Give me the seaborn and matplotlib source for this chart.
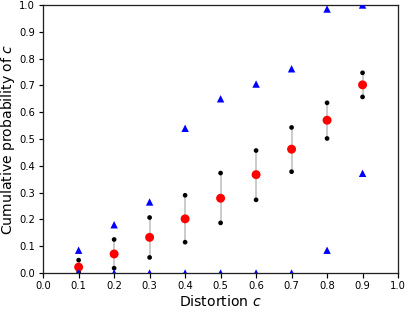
import numpy as np
import pandas as pd
import matplotlib
matplotlib.use('Agg')
import matplotlib.pyplot as plt
import seaborn as sns

# Du lieu doc tu hinh
distortion = [0.1, 0.2, 0.3, 0.4, 0.5, 0.6, 0.7, 0.8, 0.9]
mean_prob = [0.022, 0.071, 0.133, 0.202, 0.279, 0.367, 0.462, 0.570, 0.702]
upper_std = [0.048, 0.125, 0.207, 0.290, 0.373, 0.457, 0.543, 0.635, 0.747]
lower_std = [0.003, 0.018, 0.058, 0.115, 0.187, 0.273, 0.378, 0.502, 0.657]
max_prob = [0.085, 0.180, 0.265, 0.540, 0.650, 0.705, 0.762, 0.985, 1.0]
min_prob = [0.0, 0.0, 0.0, 0.0, 0.0, 0.0, 0.0, 0.085, 0.372]

df = pd.DataFrame({'c': distortion, 'mean': mean_prob, 'hi': upper_std,
                   'lo': lower_std, 'max': max_prob, 'min': min_prob})

sns.set_style('ticks')
plt.rcParams['font.family'] = ['DejaVu Sans']
plt.rcParams['text.color'] = 'black'
plt.rcParams['axes.labelcolor'] = 'black'
plt.rcParams['xtick.color'] = 'black'
plt.rcParams['ytick.color'] = 'black'

# dpi 72 -> 1pt = 1px
fig = plt.figure(figsize=(407 / 72, 312 / 72), dpi=72)
ax = fig.add_axes([0.106, 0.125, 0.872, 0.859])

ax.vlines(df['c'], df['lo'], df['hi'], color='#cccccc', lw=2, zorder=1)
sns.scatterplot(data=df, x='c', y='hi', color='black', s=22, edgecolor='none', ax=ax, zorder=2)
sns.scatterplot(data=df, x='c', y='lo', color='black', s=22, edgecolor='none', ax=ax, zorder=2)
sns.scatterplot(data=df, x='c', y='mean', color='red', s=80, edgecolor='none', ax=ax, zorder=3)
sns.scatterplot(data=df, x='c', y='max', color='blue', marker='^', s=55, edgecolor='none', ax=ax, zorder=3)
sns.scatterplot(data=df, x='c', y='min', color='blue', marker='^', s=55, edgecolor='none', ax=ax, zorder=3)

ax.set_xlim(0, 1)
ax.set_ylim(0, 1)
ax.set_xticks(np.arange(0, 1.01, 0.1))
ax.set_yticks(np.arange(0, 1.01, 0.1))
ax.tick_params(labelsize=10, length=4.5, width=1.2)
ax.set_xlabel('Distortion $c$', fontsize=14, labelpad=3)
ax.set_ylabel('Cumulative probability of $c$', fontsize=14, labelpad=2)
for s in ax.spines.values():
    s.set_color('#222222')
    s.set_linewidth(1.3)

plt.savefig('out.png', dpi=72)
